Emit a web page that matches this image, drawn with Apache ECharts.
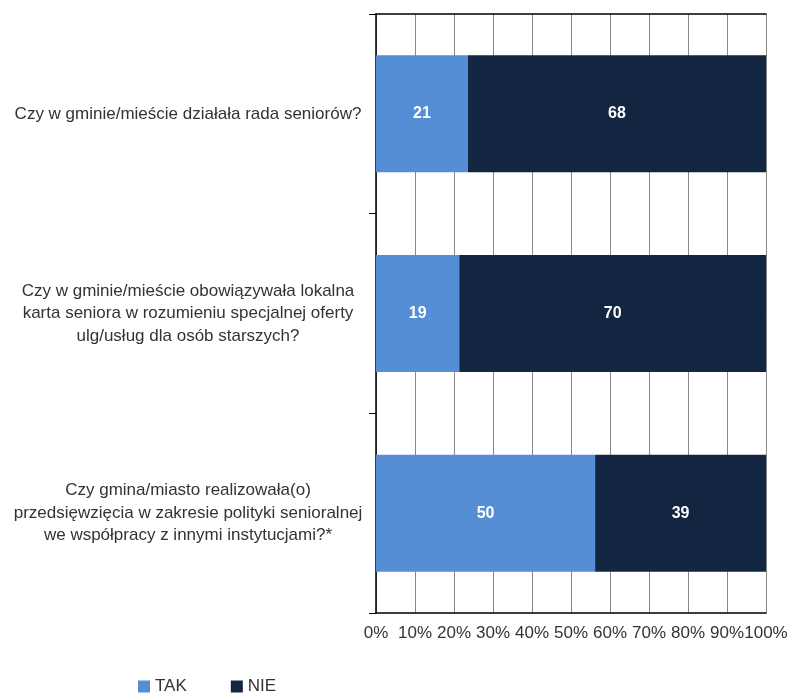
<!DOCTYPE html>
<html><head><meta charset="utf-8">
<script src="https://cdn.jsdelivr.net/npm/echarts@6/dist/echarts.min.js"></script>
<style>html,body{margin:0;padding:0;background:#fff}#c{width:788px;height:695px}</style>
</head><body><div id="c"></div>
<script>
const categories = [
  'Czy w gminie/mieście działała rada seniorów?',
  'Czy w gminie/mieście obowiązywała lokalna\nkarta seniora w rozumieniu specjalnej oferty\nulg/usług dla osób starszych?',
  'Czy gmina/miasto realizowała(o)\nprzedsięwzięcia w zakresie polityki senioralnej\nwe współpracy z innymi instytucjami?*'
];
const takValues = [21, 19, 50];
const nieValues = [68, 70, 39];
const tickLabels = ['0%','10%','20%','30%','40%','50%','60%','70%','80%','90%','100%'];

const totals = takValues.map((v, i) => v + nieValues[i]);
const share = (arr) => arr.map((v, i) => ({ value: v / totals[i] * 100, raw: v }));
const FONT = '"Liberation Sans", Arial, sans-serif';

const chart = echarts.init(document.getElementById('c'));
chart.setOption({
  animation: false,
  grid: { left: 376, right: 22, top: 14, bottom: 82, outerBoundsMode: 'none', containLabel: false },
  legend: {
    left: 133, top: 673, itemWidth: 12, itemHeight: 12, itemGap: 44,
    icon: 'rect',
    textStyle: { fontFamily: FONT, fontSize: 17, color: '#333' },
    data: ['TAK', 'NIE']
  },
  xAxis: [{
    type: 'value', min: 0, max: 100, interval: 10,
    axisLine: { show: true, lineStyle: { color: '#000', width: 1.5 } },
    axisTick: { show: false },
    splitLine: { show: true, lineStyle: { color: '#888', width: 1 } },
    axisLabel: {
      fontFamily: FONT, fontSize: 17, color: '#333', margin: 12,
      formatter: (v) => tickLabels[Math.round(v / 10)]
    }
  }, {
    type: 'value', min: 0, max: 100, position: 'top',
    axisLine: { show: true, lineStyle: { color: '#000', width: 1.5 } },
    axisTick: { show: false }, axisLabel: { show: false }, splitLine: { show: false }
  }],
  yAxis: {
    type: 'category', data: categories, inverse: true,
    axisLine: { show: true, lineStyle: { color: '#000', width: 1.5 } },
    axisTick: { show: true, length: 7, lineStyle: { color: '#000' } },
    axisLabel: {
      fontFamily: FONT, fontSize: 17, color: '#333', align: 'center',
      margin: 188, lineHeight: 22.5
    }
  },
  series: [{
    name: 'TAK', type: 'bar', stack: 'all', barWidth: 117,
    itemStyle: { color: '#558ED5' },
    label: { show: true, position: 'inside', color: '#fff', fontWeight: 'bold',
      fontFamily: FONT, fontSize: 16, formatter: (p) => p.data.raw },
    data: share(takValues)
  }, {
    name: 'NIE', type: 'bar', stack: 'all', barWidth: 117,
    itemStyle: { color: '#132641' },
    label: { show: true, position: 'inside', color: '#fff', fontWeight: 'bold',
      fontFamily: FONT, fontSize: 16, formatter: (p) => p.data.raw },
    data: share(nieValues)
  }]
});
</script></body></html>
